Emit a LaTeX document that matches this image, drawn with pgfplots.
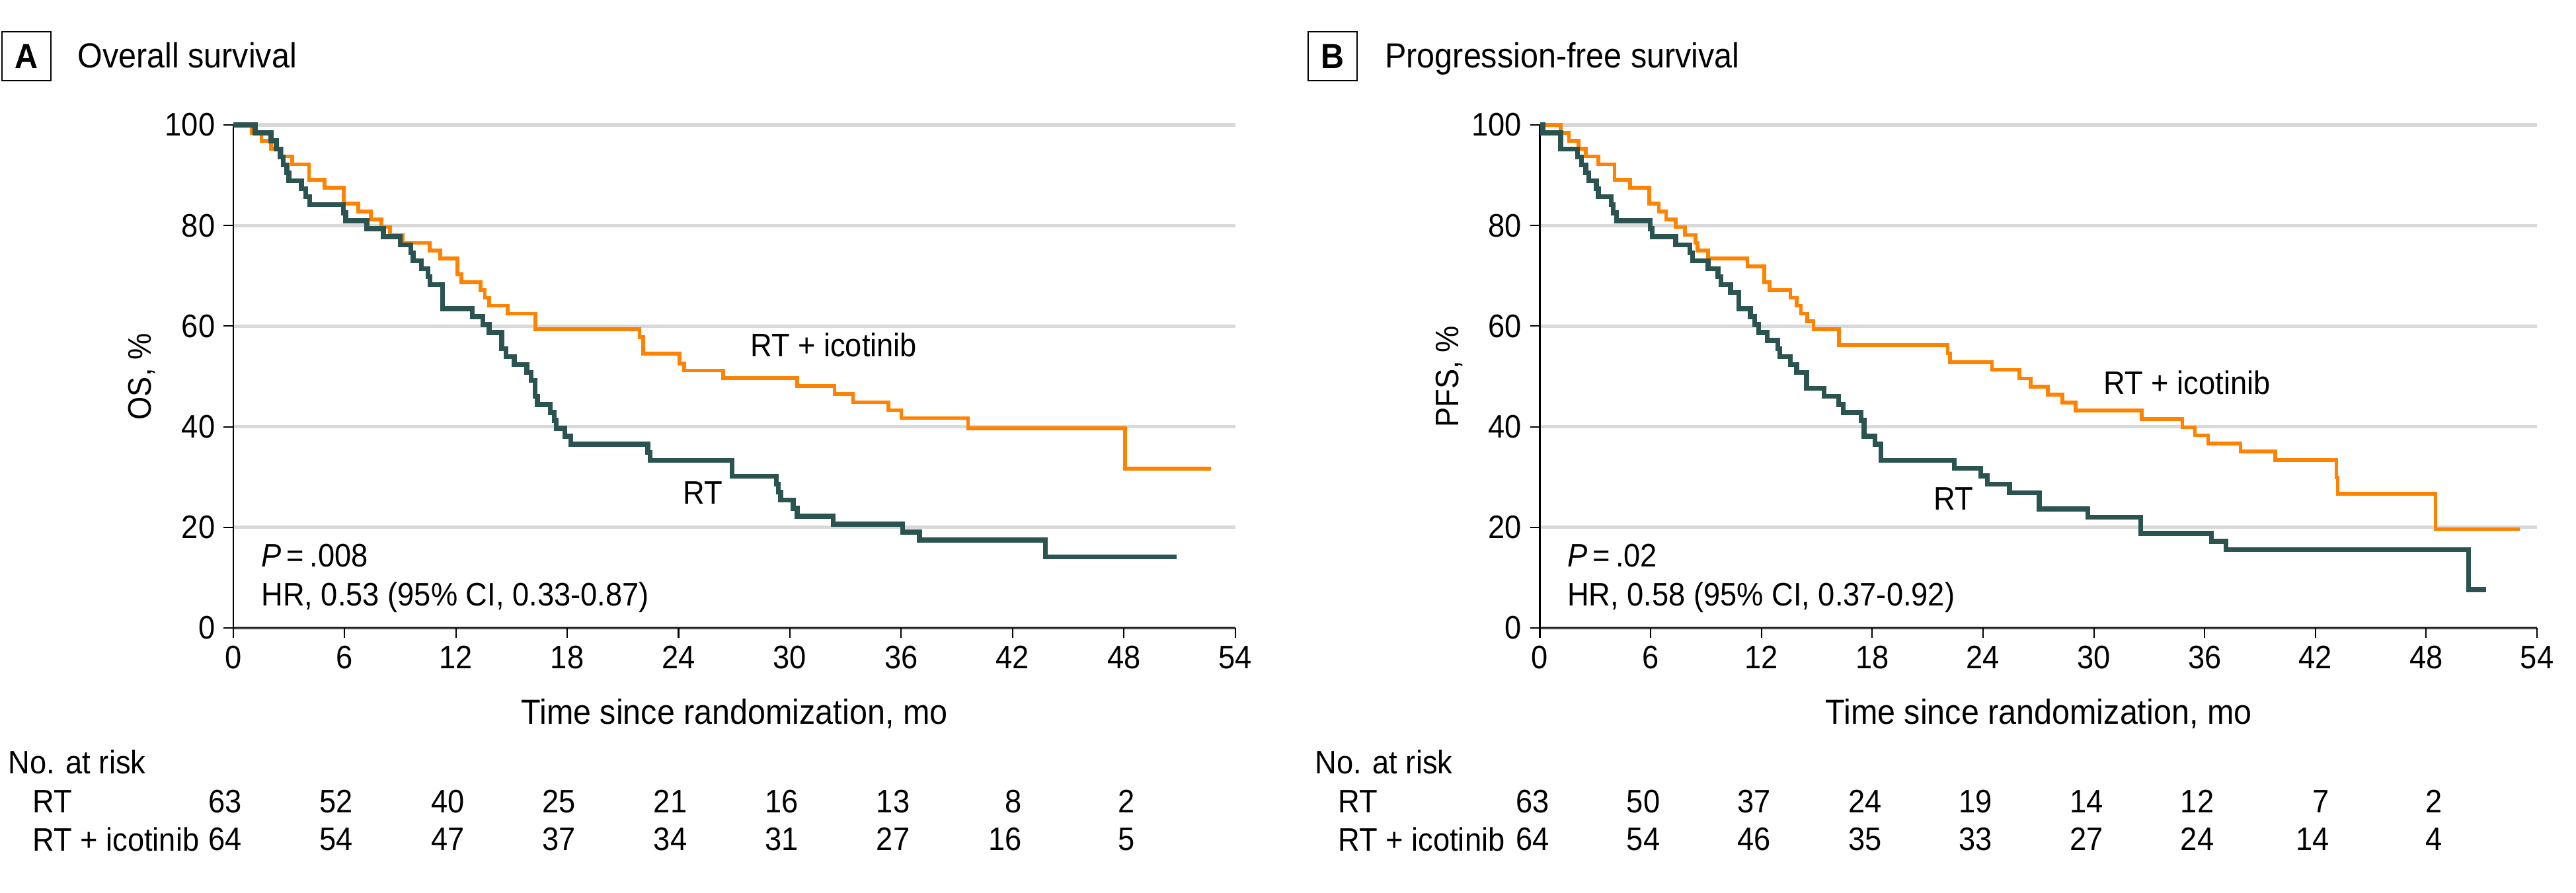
\documentclass[border=0pt]{standalone}
\usepackage{fontspec}
\setmainfont[FakeStretch=0.92]{Liberation Sans}
\usepackage{pgfplots}
\pgfplotsset{compat=1.18}
\usepackage{pgfplotstable}
\definecolor{rtc}{RGB}{43,84,80}
\definecolor{icc}{RGB}{255,131,0}
\definecolor{gridc}{RGB}{217,217,217}
\newcommand\ft{\fontsize{14}{16.8}\selectfont}
\newcommand\fT{\fontsize{15}{18}\selectfont}

% Overall survival, RT + icotinib
\pgfplotstableread{
t s
0 100
1.0 98.44
1.52 96.88
2.04 95.31
2.6 93.75
3.18 92.19
4.09 89.06
4.93 87.5
5.95 84.38
6.75 82.81
7.43 81.25
8.0 79.69
8.45 78.13
9.13 76.56
10.6 75.0
11.17 73.44
12.08 70.31
12.3 68.75
13.33 67.19
13.56 65.63
13.79 64.06
14.8 62.5
16.28 59.38
21.9 57.8
22.1 54.5
24.05 52.6
24.3 51.2
26.4 49.7
30.4 48.1
32.4 46.5
33.4 44.9
35.3 43.3
36.0 41.7
39.6 39.7
48.07 31.7
52.7 31.7
}\osIC

% Overall survival, RT
\pgfplotstableread{
t s
0 100
1.18 98.41
2.04 96.83
2.32 95.24
2.54 93.65
2.7 92.06
2.9 90.48
3.0 88.89
3.68 87.3
3.9 85.71
4.13 84.13
5.95 82.54
6.06 80.95
7.2 79.37
8.1 77.78
9.0 76.19
9.58 74.6
9.7 73.02
10.15 71.43
10.5 69.84
10.6 68.25
11.29 63.49
12.88 61.9
13.45 60.32
13.79 58.73
14.47 55.56
14.7 53.97
15.15 52.38
15.83 50.79
16.06 49.21
16.28 46.03
16.4 44.44
17.08 42.86
17.3 41.27
17.42 39.68
17.87 38.1
18.2 36.51
22.34 34.92
22.46 33.33
26.88 30.16
29.27 28.57
29.38 26.98
29.5 25.4
30.18 23.81
30.4 22.22
32.34 20.63
36.08 19.05
36.99 17.46
43.76 14.1
50.85 14.1
}\osRT

% Progression-free survival, RT + icotinib
\pgfplotstableread{
t s
0 100
1.12 98.44
1.58 96.88
2.1 95.31
2.49 93.75
3.17 92.19
4.04 89.06
4.89 87.5
5.92 84.38
6.44 82.81
6.83 81.25
7.35 79.69
7.86 78.13
8.43 76.56
8.54 75.0
9.11 73.44
11.24 71.88
12.15 68.75
12.43 67.19
13.57 65.63
13.91 64.06
14.14 62.5
14.48 60.94
14.82 59.38
16.19 56.25
22.09 54.6
22.2 52.85
24.48 51.3
25.98 49.6
26.58 48.0
27.51 46.4
28.3 44.8
29.02 43.2
32.6 41.5
34.8 39.9
35.47 38.3
36.19 36.7
37.94 35.05
39.83 33.35
43.13 29.9
43.2 26.7
48.5 19.66
53.05 19.66
}\pfsIC

% Progression-free survival, RT
\pgfplotstableread{
t s
0 100
0.16 98.41
1.12 95.24
2.03 93.65
2.26 92.06
2.49 90.48
2.65 88.89
3.06 87.3
3.17 85.71
3.86 84.13
3.97 82.54
4.16 80.95
5.98 79.37
6.08 77.78
7.35 76.19
8.13 74.6
8.27 73.02
9.11 71.43
9.64 69.84
9.8 68.25
10.32 66.67
10.78 63.49
11.4 61.9
11.63 60.32
11.85 58.73
12.31 57.14
12.88 55.56
12.99 53.97
13.57 52.38
13.91 50.79
14.44 47.62
15.39 46.03
16.19 44.44
16.42 42.86
17.4 41.27
17.56 38.1
18.14 36.51
18.48 33.33
22.45 31.7
23.88 30.2
24.24 28.6
25.43 26.9
27.04 23.65
29.67 22.0
32.53 18.8
36.36 17.2
37.15 15.55
50.3 7.6
51.25 7.6
}\pfsRT

\pgfplotsset{
  km/.style={
    scale only axis, anchor=south west,
    xmin=0, xmax=54, ymin=0, ymax=100,
    xtick={0,6,...,54}, ytick={0,20,...,100},
    axis x line*=bottom, axis y line*=left,
    axis line style={line width=0.6pt, black, -},
    tick style={line width=0.6pt, black},
    major tick length=1.5mm, tick align=outside,
    ymajorgrids, grid style={line width=1.5pt, gridc},
    clip=false,
    ticklabel style={font=\ft},
    /pgf/number format/assume math mode=true,
  },
}

\begin{document}
\begin{tikzpicture}[font=\ft]
\useasboundingbox (0,0) rectangle (389.7mm,-135.1mm);

% ---------- Panel A ----------
\draw[line width=0.6pt] (0.3mm,-4.8mm) rectangle (7.7mm,-12.2mm);
\node[font=\fT\bfseries] at (4.0mm,-8.5mm) {A};
\node[anchor=base west, font=\fT] at (10.5mm,-10.3mm) {Overall survival};
\node[rotate=90, font=\ft] at (21.4mm,-57.0mm) {OS, \%};
\node[anchor=base, font=\fT] at (111.1mm,-109.5mm) {Time since randomization, mo};

\begin{axis}[km, at={(35.27mm,-95.0mm)}, width=151.6mm, height=76.1mm]
\addplot[icc, line width=1.6pt, const plot, no marks] table {\osIC};
\addplot[rtc, line width=2.1pt, const plot, no marks] table {\osRT};
\node[anchor=base west] at (axis cs:27.43,54.0) {RT + icotinib};
\node[anchor=base west] at (axis cs:23.8,24.7) {RT};
\node[anchor=base west] at (axis cs:1.08,12.2) {\textit{P}\,=\,.008};
\node[anchor=base west] at (axis cs:1.08,4.4) {HR, 0.53 (95\% CI, 0.33-0.87)};
% at-risk numbers, RT
\node[anchor=base east] at (axis cs:0.9,-36.66) {63};
\node[anchor=base east] at (axis cs:6.9,-36.66) {52};
\node[anchor=base east] at (axis cs:12.9,-36.66) {40};
\node[anchor=base east] at (axis cs:18.9,-36.66) {25};
\node[anchor=base east] at (axis cs:24.9,-36.66) {21};
\node[anchor=base east] at (axis cs:30.9,-36.66) {16};
\node[anchor=base east] at (axis cs:36.9,-36.66) {13};
\node[anchor=base east] at (axis cs:42.95,-36.66) {8};
\node[anchor=base] at (axis cs:48.15,-36.66) {2};
% at-risk numbers, RT + icotinib
\node[anchor=base east] at (axis cs:0.9,-44.28) {64};
\node[anchor=base east] at (axis cs:6.9,-44.28) {54};
\node[anchor=base east] at (axis cs:12.9,-44.28) {47};
\node[anchor=base east] at (axis cs:18.9,-44.28) {37};
\node[anchor=base east] at (axis cs:24.9,-44.28) {34};
\node[anchor=base east] at (axis cs:30.9,-44.28) {31};
\node[anchor=base east] at (axis cs:36.9,-44.28) {27};
\node[anchor=base east] at (axis cs:42.95,-44.28) {16};
\node[anchor=base] at (axis cs:48.15,-44.28) {5};
\end{axis}

\node[anchor=base west] at (0mm,-117.0mm) {No. at risk};
\node[anchor=base west] at (3.7mm,-122.9mm) {RT};
\node[anchor=base west] at (3.7mm,-128.7mm) {RT + icotinib};

% ---------- Panel B ----------
\draw[line width=0.6pt] (197.9mm,-4.8mm) rectangle (205.3mm,-12.2mm);
\node[font=\fT\bfseries] at (201.6mm,-8.5mm) {B};
\node[anchor=base west, font=\fT] at (208.3mm,-10.3mm) {Progression-free survival};
\node[rotate=90, font=\ft] at (219.2mm,-57.0mm) {PFS, \%};
\node[anchor=base, font=\fT] at (308.4mm,-109.5mm) {Time since randomization, mo};

\begin{axis}[km, at={(232.95mm,-95.0mm)}, width=150.85mm, height=76.1mm]
\addplot[icc, line width=1.6pt, const plot, no marks] table {\pfsIC};
\addplot[rtc, line width=2.1pt, const plot, no marks] table {\pfsRT};
\node[anchor=base west] at (axis cs:30.1,46.4) {RT + icotinib};
\node[anchor=base west] at (axis cs:20.9,23.5) {RT};
\node[anchor=base west] at (axis cs:1.04,12.2) {\textit{P}\,=\,.02};
\node[anchor=base west] at (axis cs:1.04,4.4) {HR, 0.58 (95\% CI, 0.37-0.92)};
% at-risk numbers, RT
\node[anchor=base east] at (axis cs:0.95,-36.66) {63};
\node[anchor=base east] at (axis cs:6.95,-36.66) {50};
\node[anchor=base east] at (axis cs:12.95,-36.66) {37};
\node[anchor=base east] at (axis cs:18.95,-36.66) {24};
\node[anchor=base east] at (axis cs:24.95,-36.66) {19};
\node[anchor=base east] at (axis cs:30.95,-36.66) {14};
\node[anchor=base east] at (axis cs:36.95,-36.66) {12};
\node[anchor=base east] at (axis cs:43.2,-36.66) {7};
\node[anchor=base] at (axis cs:48.4,-36.66) {2};
% at-risk numbers, RT + icotinib
\node[anchor=base east] at (axis cs:0.95,-44.28) {64};
\node[anchor=base east] at (axis cs:6.95,-44.28) {54};
\node[anchor=base east] at (axis cs:12.95,-44.28) {46};
\node[anchor=base east] at (axis cs:18.95,-44.28) {35};
\node[anchor=base east] at (axis cs:24.95,-44.28) {33};
\node[anchor=base east] at (axis cs:30.95,-44.28) {27};
\node[anchor=base east] at (axis cs:36.95,-44.28) {24};
\node[anchor=base east] at (axis cs:43.2,-44.28) {14};
\node[anchor=base] at (axis cs:48.4,-44.28) {4};
\end{axis}

\node[anchor=base west] at (197.7mm,-117.0mm) {No. at risk};
\node[anchor=base west] at (201.2mm,-122.9mm) {RT};
\node[anchor=base west] at (201.2mm,-128.7mm) {RT + icotinib};
\end{tikzpicture}
\end{document}
